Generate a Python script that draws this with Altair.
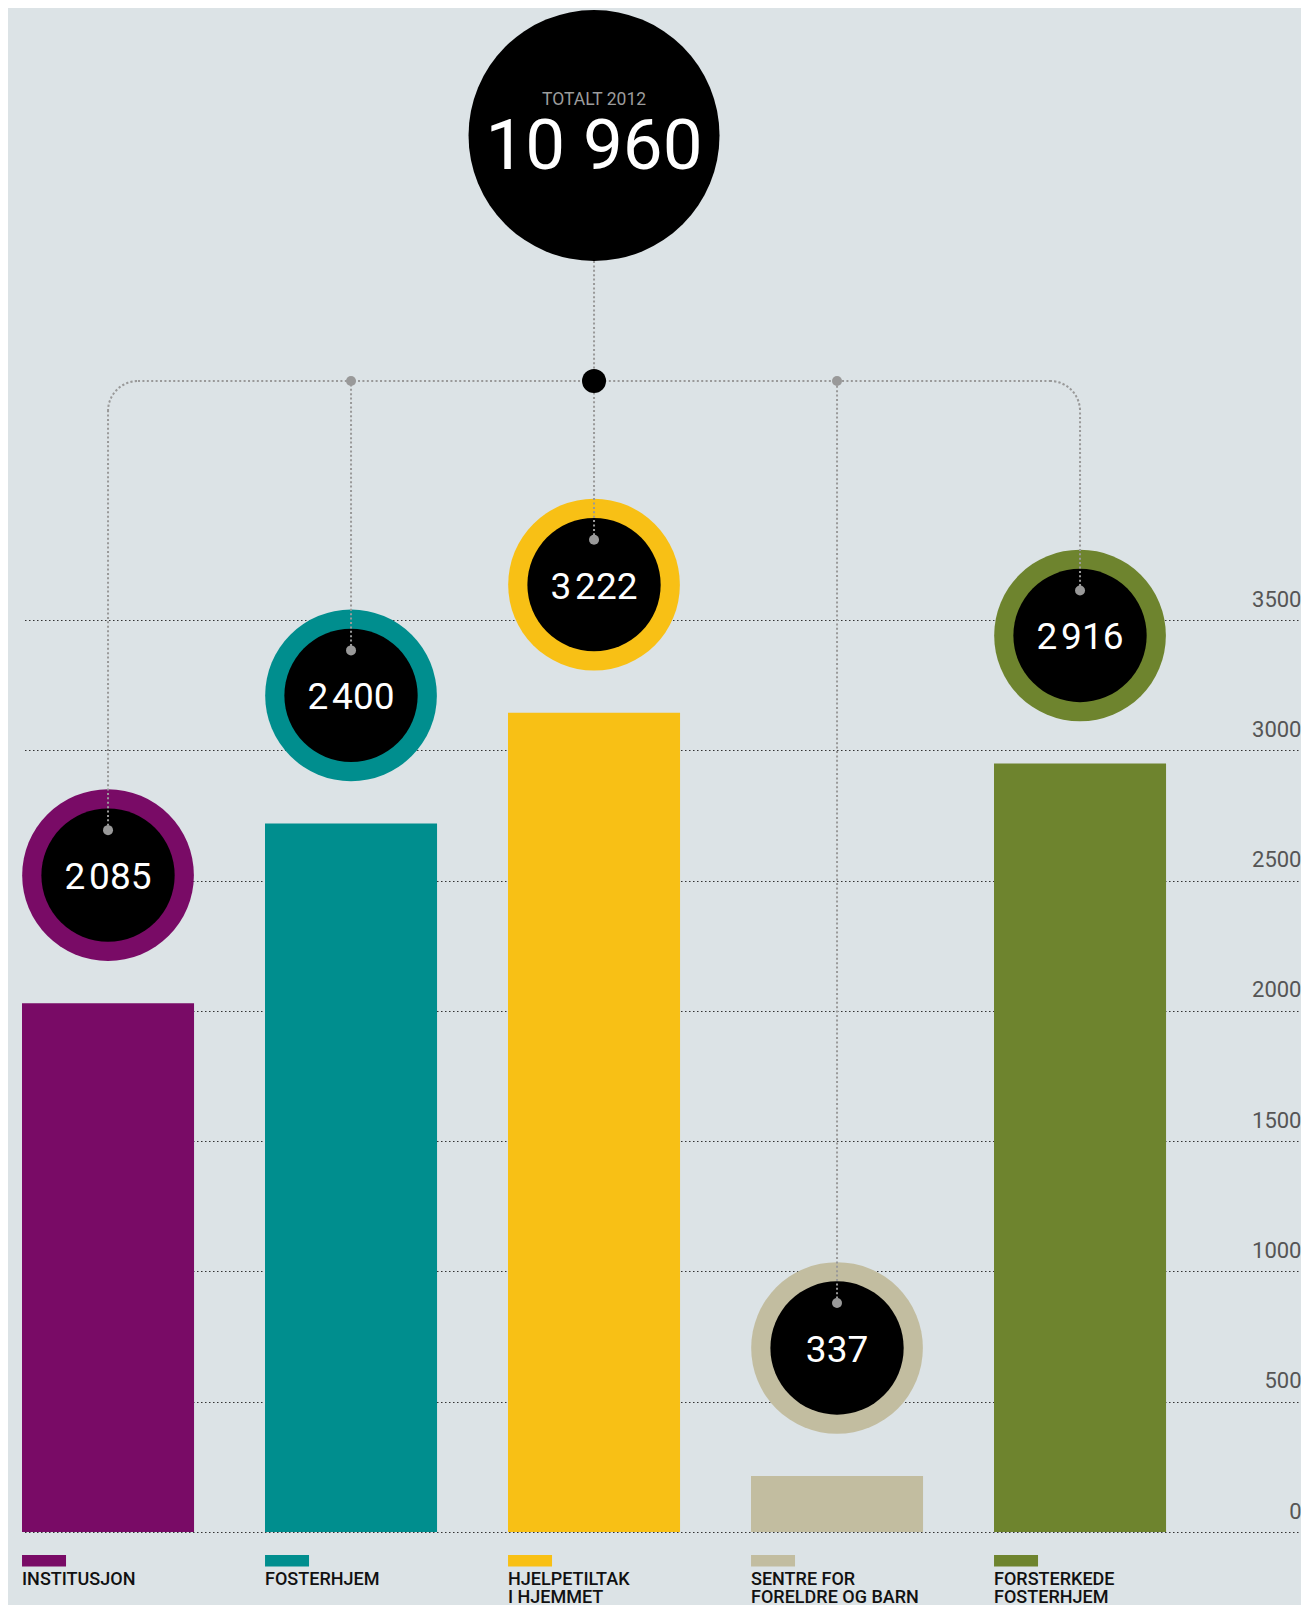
import math
import altair as alt
import pandas as pd

# ---- data ----
categories = ["INSTITUSJON", "FOSTERHJEM", "HJELPETILTAK I HJEMMET",
              "SENTRE FOR FORELDRE OG BARN", "FORSTERKEDE FOSTERHJEM"]
footer_labels = ["INSTITUSJON", "FOSTERHJEM", "HJELPETILTAK\nI HJEMMET",
                 "SENTRE FOR\nFORELDRE OG BARN", "FORSTERKEDE\nFOSTERHJEM"]
bar_values = [2030, 2720, 3145, 215, 2950]
bubble_labels = ["2\u200a085", "2\u200a400", "3\u200a222", "337", "2\u200a916"]
colors = ["#790b66", "#008e8e", "#f8c015", "#c2bda0", "#6e842e"]
total_label = "TOTALT 2012"
total_value = "10 960"
y_ticks = [0, 500, 1000, 1500, 2000, 2500, 3000, 3500]

df = pd.DataFrame({"cat": categories, "val": bar_values,
                   "lab": bubble_labels, "foot": footer_labels})
df_total = pd.DataFrame({"cat": [categories[2]], "t1": [total_label], "t2": [total_value]})
df_span = pd.DataFrame({"a": [categories[0]], "b": [categories[-1]]})

# ---- layout constants ----
W, H = 1276, 1524
LINE_Y = 373          # horizontal connector (px from plot top)
CORNER = 30
BUBBLE_OFF = -128     # bubble centre above bar top (px)
DOT_OFF = -173        # small grey dot above bar top (px)
GREY = "#999999"
DASH = [2, 2.4]

xscale = alt.Scale(domain=categories, paddingInner=0.292, paddingOuter=0.2715, align=0)
X = alt.X("cat:N", scale=xscale, axis=None, sort=categories)
colscale = alt.Scale(domain=categories, range=colors)
yaxis = alt.Axis(orient="right", values=y_ticks, grid=True, gridDash=[1.5, 2.5],
                 gridColor="#333333", gridWidth=1.2, domain=False, ticks=False, tickSize=0,
                 labelAlign="right", labelBaseline="alphabetic", labelOffset=-14,
                 labelPadding=3, labelFontSize=22, labelColor="#555555",
                 labelFont="Roboto", title=None, format="d")
Y = alt.Y("val:Q", scale=alt.Scale(domain=[0, 5850], nice=False, zero=True), axis=yaxis)

base = alt.Chart(df)

bars = base.mark_bar().encode(
    x=X, y=Y, color=alt.Color("cat:N", scale=colscale, legend=None))

ring = base.mark_point(shape="circle", filled=True, size=171.7 ** 2, opacity=1,
                       yOffset=BUBBLE_OFF).encode(
    x=X, y=Y, color=alt.Color("cat:N", scale=colscale, legend=None))
inner = base.mark_point(shape="circle", filled=True, size=133.3 ** 2, opacity=1,
                        color="black", yOffset=BUBBLE_OFF).encode(x=X, y=Y)
btext = base.mark_text(font="Roboto", fontSize=37, color="white", align="center",
                       baseline="alphabetic", yOffset=BUBBLE_OFF + 14).encode(
    x=X, y=Y, text="lab:N")

# vertical connectors
v_outer = base.transform_filter(
    alt.FieldOneOfPredicate(field="cat", oneOf=[categories[0], categories[-1]])
).mark_rule(color=GREY, strokeDash=DASH, strokeWidth=2, yOffset=DOT_OFF).encode(
    x=X, y=Y, y2=alt.value(LINE_Y + CORNER))
v_inner = base.transform_filter(
    alt.FieldOneOfPredicate(field="cat", oneOf=categories[1:4])
).mark_rule(color=GREY, strokeDash=DASH, strokeWidth=2, yOffset=DOT_OFF).encode(
    x=X, y=Y, y2=alt.value(LINE_Y))
small_dot = base.mark_point(shape="circle", filled=True, size=100, opacity=1,
                            color=GREY, yOffset=DOT_OFF).encode(x=X, y=Y)

# horizontal connector
hline = alt.Chart(df_span).mark_rule(color=GREY, strokeDash=DASH, strokeWidth=2,
                                     xOffset=CORNER, x2Offset=-CORNER).encode(
    x=alt.X("a:N", scale=xscale, axis=None, sort=categories), x2="b:N",
    y=alt.value(LINE_Y))
arc_left = alt.Chart(df_span).mark_arc(
    filled=False, stroke=GREY, strokeDash=DASH, strokeWidth=2,
    radius=CORNER, radius2=CORNER - 0.01, theta=1.5 * math.pi, theta2=2 * math.pi,
    xOffset=CORNER).encode(
    x=alt.X("a:N", scale=xscale, axis=None, sort=categories), y=alt.value(LINE_Y + CORNER))
arc_right = alt.Chart(df_span).mark_arc(
    filled=False, stroke=GREY, strokeDash=DASH, strokeWidth=2,
    radius=CORNER, radius2=CORNER - 0.01, theta=0, theta2=0.5 * math.pi,
    xOffset=-CORNER).encode(
    x=alt.X("b:N", scale=xscale, axis=None, sort=categories), y=alt.value(LINE_Y + CORNER))
junction_dots = base.transform_filter(
    alt.FieldOneOfPredicate(field="cat", oneOf=[categories[1], categories[3]])
).mark_point(shape="circle", filled=True, size=100, opacity=1, color=GREY).encode(
    x=X, y=alt.value(LINE_Y))

# total bubble
tbase = alt.Chart(df_total)
t_vline = tbase.mark_rule(color=GREY, strokeDash=DASH, strokeWidth=2).encode(
    x=X, y=alt.value(253), y2=alt.value(LINE_Y))
t_circle = tbase.mark_point(shape="circle", filled=True, size=251 ** 2, opacity=1,
                            color="black").encode(x=X, y=alt.value(127.5))
t_junction = tbase.mark_point(shape="circle", filled=True, size=24 ** 2, opacity=1,
                              color="black").encode(x=X, y=alt.value(LINE_Y))
t_text1 = tbase.mark_text(font="Roboto", fontSize=17.5, color="#9c9c9c", align="center",
                          baseline="alphabetic").encode(x=X, y=alt.value(97.3), text="t1:N")
t_text2 = tbase.mark_text(font="Roboto", fontSize=71, color="white", align="center",
                          baseline="alphabetic").encode(x=X, y=alt.value(161.3), text="t2:N")

# footer legend
swatch = base.mark_bar(width=44, xOffset=-64).encode(
    x=X, y=alt.value(1547), y2=alt.value(1558.5),
    color=alt.Color("cat:N", scale=colscale, legend=None))
foot = base.mark_text(font="Roboto", fontSize=18, fontWeight=500, color="#111111",
                      align="left", baseline="alphabetic", dx=-86, lineBreak="\n",
                      lineHeight=18).encode(x=X, y=alt.value(1577), text="foot:N")

chart = alt.layer(
    bars, ring, inner, btext,
    t_vline, t_circle, t_text1, t_text2,
    hline, arc_left, arc_right, v_outer, v_inner, small_dot, junction_dots, t_junction,
    swatch, foot,
).properties(
    width=W, height=H,
    padding={"left": 14, "top": 0, "right": 0, "bottom": 0},
    background="#dce3e6",
).configure_view(stroke=None)

chart.save("out.html", embed_options={"renderer": "svg", "actions": False})
